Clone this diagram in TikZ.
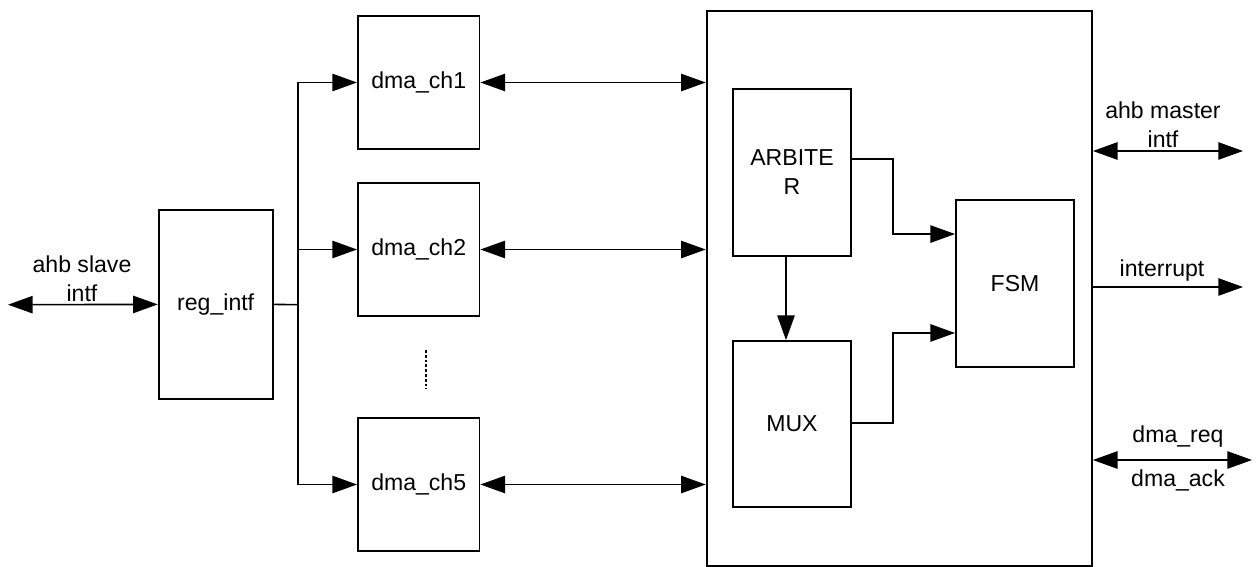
\documentclass[tikz,border=0pt]{standalone}
\usepackage{fontspec}
\setmainfont{Liberation Sans}
\usetikzlibrary{arrows.meta, positioning, calc}

\begin{document}
\begin{tikzpicture}[
  x=0.75pt, y=-0.75pt,
  every node/.style={font=\fontsize{17.3}{21.75}\selectfont},
  >={Triangle[length=18.5pt, width=13pt]},
  blk/.style 2 args={rectangle, draw, line width=1.4pt, inner sep=0pt,
                     minimum width=#1*0.75pt, minimum height=#2*0.75pt, align=center},
  sig/.style={->, line width=1.2pt},
  dbl/.style={<->, line width=1.2pt},
  bus/.style={line width=1.2pt},
  lbl/.style={align=center, inner sep=0pt}
]
\useasboundingbox (0,0) rectangle (1256,567);

%% register interface and channels
\node[blk={114}{189}]    (reg) at (215.7,304.4) {reg\_intf};
\node[blk={121.5}{133}]  (ch1) at (418.7,82.5)  {dma\_ch1};
\node[blk={121.5}{133}]  (ch2) at (418.7,249.5) {dma\_ch2};
\node[blk={121.5}{133}]  (ch5) at (418.7,484.5) {dma\_ch5};

%% controller block
\node[blk={385.3}{555.3}] (ctrl) at (899.3,288.3) {};
\node[blk={118}{167}]     (arb)  at (792,172.5)   {ARBITE\\R};
\node[blk={118}{166}]     (mux)  at (792,424)     {MUX};
\node[blk={118}{167}]     (fsm)  at (1015,283.5)  {FSM};

%% free ends
\coordinate (slv) at (8,304.7);
\coordinate (bus) at (298,304.7);
\coordinate (mst) at (1243,151);
\coordinate (irq) at (1243,287);
\coordinate (req) at (1252,460);

%% slave side
\draw[dbl] (slv) -- (reg.west);
\draw[bus] (reg.east) -- (bus);
\draw[bus] (bus |- ch1) -- (bus |- ch5);
\foreach \c in {ch1, ch2, ch5} {
  \draw[sig] (bus |- \c) -- (\c.west);
  \draw[dbl] (\c.east) -- (\c.east -| ctrl.west);
}
\draw[line width=1.5pt, dash pattern={on 2.2pt off 1.4pt}]
  ($(ch2.south)+(7,33)$) -- ($(ch2.south)+(7,72)$);

%% inside controller
\draw[sig] ([xshift=-4.5pt]arb.south) -- ([xshift=-4.5pt]mux.north);
\draw[sig] ([yshift=10.35pt]arb.east) -- ++(41,0) |- ([yshift=37.1pt]fsm.west);
\draw[sig] ([yshift=0.75pt]mux.east) -- ++(41,0) |- ([yshift=-37.1pt]fsm.west);

%% master side
\draw[dbl] (mst -| ctrl.east) -- (mst);
\draw[sig] (irq -| ctrl.east) -- (irq);
\draw[dbl] (req -| ctrl.east) -- (req);

%% labels
\node[lbl] (slvlbl) at (82,279)     {ahb slave\\intf};
\node[lbl] (mstlbl) at (1163,124.5) {ahb master\\intf};
\node[lbl] (irqlbl) at (1162,271)   {interrupt};
\node[lbl] (reqlbl) at (1178,437)   {dma\_req};
\node[lbl] (acklbl) at (1178,480)   {dma\_ack};
\end{tikzpicture}
\end{document}
